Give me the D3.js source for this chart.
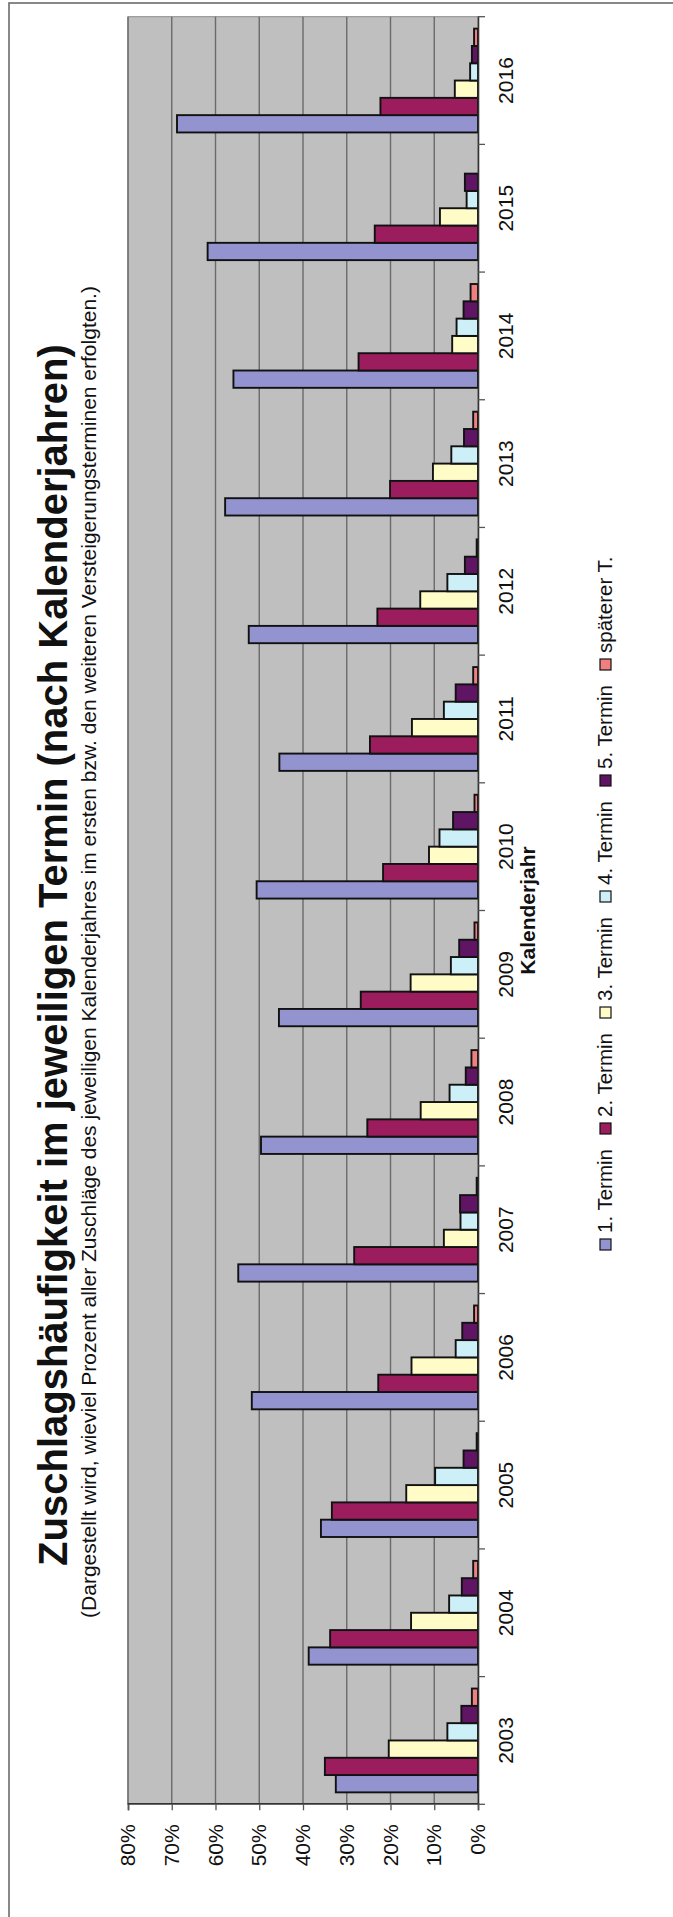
<!DOCTYPE html>
<html><head><meta charset="utf-8">
<script src="https://cdn.jsdelivr.net/npm/d3@7"></script>
<style>body{margin:0;background:#fff}svg{display:block}</style>
</head><body>
<svg id="c" width="673" height="1917"></svg>
<script>
// ---- data ----
const years = ["2003","2004","2005","2006","2007","2008","2009","2010","2011","2012","2013","2014","2015","2016"];
const seriesNames = ["1. Termin","2. Termin","3. Termin","4. Termin","5. Termin","späterer T."];
const termin1 = [32.5,38.7,35.9,51.7,54.8,49.6,45.5,50.6,45.4,52.4,57.8,55.9,61.8,68.8];
const termin2 = [35.0,33.8,33.4,22.8,28.3,25.3,26.8,21.7,24.7,23.0,20.1,27.3,23.6,22.3];
const termin3 = [20.4,15.3,16.4,15.2,7.8,13.1,15.4,11.2,15.1,13.2,10.3,5.9,8.7,5.3];
const termin4 = [7.0,6.6,9.8,5.1,4.0,6.5,6.2,8.8,7.8,7.0,6.1,4.9,2.6,1.8];
const termin5 = [3.8,3.7,3.3,3.6,4.1,2.8,4.3,5.7,5.1,3.0,3.2,3.3,3.0,1.4];
const spaeter = [1.4,1.1,0.3,0.9,0.3,1.5,0.8,0.8,1.1,0.3,1.1,1.7,0.0,0.9];
const valueTicks = [0,10,20,30,40,50,60,70,80];
const titleText = "Zuschlagshäufigkeit im jeweiligen Termin (nach Kalenderjahren)";
const subtitleText = "(Dargestellt wird, wieviel Prozent aller Zuschläge des jeweiligen Kalenderjahres im ersten bzw. den weiteren Versteigerungsterminen erfolgten.)";
const xAxisTitle = "Kalenderjahr";

const seriesValues = [termin1, termin2, termin3, termin4, termin5, spaeter];
const colors = ["#9393d0","#9b1d5d","#fffcc8","#cdeff8","#5f1563","#f08080"];

// ---- layout (chart drawn unrotated, then turned -90deg) ----
const W = 1917;
const font = "'Liberation Sans', Arial, sans-serif";
const plot = {x0: 112.7, x1: 1900.3, yTop: 128, yBot: 478};

const svg = d3.select("#c");
const g = svg.append("g").attr("transform", `translate(0,${W}) rotate(-90)`)
  .style("font-family", font);

// chart frame
g.append("rect").attr("x", -20).attr("y", 9).attr("width", 1934).attr("height", 720)
  .attr("fill", "#fff").attr("stroke", "#6b6b6b").attr("stroke-width", 1.6);

const x = d3.scaleBand().domain(years).range([plot.x0, plot.x1]).padding(0);
const xs = d3.scaleBand().domain(seriesNames).range([0, x.bandwidth()])
  .paddingInner(0).paddingOuter(0.69);
const y = d3.scaleLinear().domain([0, 80]).range([plot.yBot, plot.yTop]);

// plot area
g.append("rect").attr("x", plot.x0).attr("y", plot.yTop)
  .attr("width", plot.x1 - plot.x0).attr("height", plot.yBot - plot.yTop)
  .attr("fill", "#bfbfbf").attr("stroke", "#8a8a8a").attr("stroke-width", 1);

// gridlines
g.append("g").selectAll("line").data(valueTicks.filter(d => d > 0)).join("line")
  .attr("x1", plot.x0).attr("x2", plot.x1)
  .attr("y1", d => y(d)).attr("y2", d => y(d))
  .attr("stroke", "#6a6a6a").attr("stroke-width", 1.4);

// bars
const groups = g.append("g").selectAll("g").data(years).join("g")
  .attr("transform", d => `translate(${x(d)},0)`);
groups.selectAll("rect")
  .data((yr, i) => seriesNames.map((s, k) => ({s, k, v: seriesValues[k][i]})))
  .join("rect")
  .attr("x", d => xs(d.s)).attr("width", xs.bandwidth())
  .attr("y", d => y(d.v)).attr("height", d => y(0) - y(d.v))
  .attr("fill", d => colors[d.k])
  .attr("stroke", d => d.v > 0 ? "#111" : "none").attr("stroke-width", 1.9);

// value axis (left in unrotated frame)
const ya = g.append("g").attr("transform", `translate(${plot.x0},0)`)
  .call(d3.axisLeft(y).tickValues(valueTicks).tickFormat(d => d + "%").tickSize(6).tickPadding(14));
ya.select(".domain").attr("stroke", "#333").attr("stroke-width", 1.6);
ya.selectAll(".tick line").attr("stroke", "#555").attr("stroke-width", 1.3);
ya.selectAll(".tick text").attr("font-size", 21).attr("font-family", font).attr("fill", "#111");

// category axis (bottom in unrotated frame)
const xa = g.append("g").attr("transform", `translate(0,${plot.yBot})`)
  .call(d3.axisBottom(x).tickSize(0).tickPadding(20));
xa.select(".domain").attr("stroke", "#333").attr("stroke-width", 1.6);
xa.selectAll(".tick text").attr("font-size", 21).attr("font-family", font).attr("fill", "#111");
const bounds = years.map(d => x(d)).concat([plot.x1]);
xa.append("g").selectAll("line").data(bounds).join("line")
  .attr("x1", d => d).attr("x2", d => d).attr("y1", 0).attr("y2", 7)
  .attr("stroke", "#555").attr("stroke-width", 1.3);

// axis title
g.append("text").attr("x", (plot.x0 + plot.x1) / 2).attr("y", 535)
  .attr("text-anchor", "middle").attr("font-size", 21).attr("font-weight", "bold")
  .attr("fill", "#111").text(xAxisTitle);

// titles
const titleCx = 962;
g.append("text").attr("x", titleCx).attr("y", 67).attr("text-anchor", "middle")
  .attr("font-size", 40).attr("font-weight", "bold").attr("fill", "#111").text(titleText);
g.append("text").attr("x", 965).attr("y", 96).attr("text-anchor", "middle")
  .attr("font-size", 21).attr("fill", "#111").text(subtitleText);

// legend
const leg = g.append("g").selectAll("g").data(seriesNames).join("g")
  .attr("transform", (d, i) => `translate(${667 + i * 116},600)`);
leg.append("rect").attr("width", 11).attr("height", 11)
  .attr("fill", (d, i) => colors[i]).attr("stroke", "#111").attr("stroke-width", 1.2);
leg.append("text").attr("x", 17).attr("y", 12).attr("font-size", 20.5)
  .attr("fill", "#111").text(d => d);
</script>
</body></html>
